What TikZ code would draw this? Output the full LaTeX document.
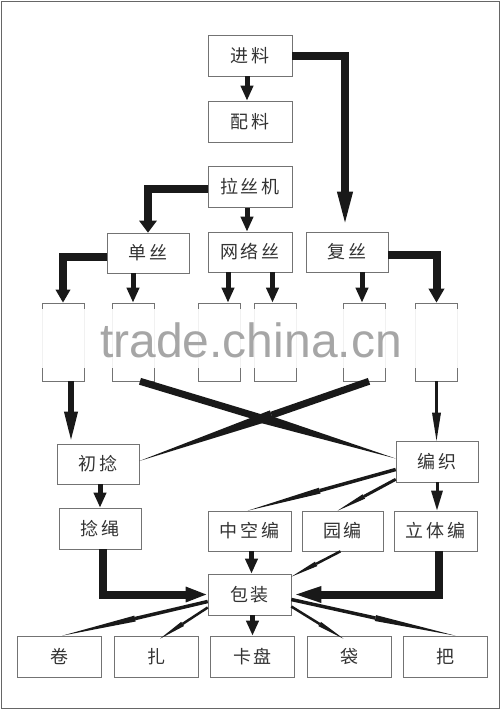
\documentclass[tikz,border=0pt]{standalone}
\usepackage{fontspec}
\newfontfamily\cjk[LetterSpace=15]{Noto Sans CJK SC}
\newfontfamily\wmfont{Liberation Sans}
\usetikzlibrary{arrows.meta,calc}

\tikzset{
  box/.style={draw=black!55, line width=0.6pt, minimum width=84pt, minimum height=41pt,
    inner sep=0pt, text=black!80, font=\cjk\fontsize{18}{18}\selectfont},
  blank/.style={draw=black!55, line width=0.6pt, minimum width=42pt, minimum height=78pt, inner sep=0pt},
  fat/.style={draw=black!90, line width=5pt, -{Triangle[length=15pt,width=12pt]}},
  elbow/.style 2 args={draw=black!90, line width=8pt, -{Triangle[length=#1,width=#2]}}
}
% tapered connector: from, to, shaft width, head length, head half width
\newcommand{\spike}[5]{%
  \path #1 coordinate (sp-a) #2 coordinate (sp-b);
  \coordinate (sp-c) at ($(sp-b)!#4!(sp-a)$);
  \draw[black!90, line width=#3] (sp-a) -- (sp-c);
  \fill[black!90] ($(sp-c)!#5!90:(sp-b)$) -- (sp-b) -- ($(sp-c)!#5!-90:(sp-b)$) -- cycle;
}

\begin{document}
\begin{tikzpicture}[x=1pt, y=-1pt]
\useasboundingbox (0,0) rectangle (500,710);
\draw[black!60, line width=1pt] (1,1) rectangle (499,708);

% top part
\node[box] (jinliao)  at (250,55.5)  {进料};
\node[box] (peiliao)  at (250,121.5) {配料};
\node[box] (lasiji)   at (250,187)   {拉丝机};
\node[box, minimum width=82pt, minimum height=40pt] (dansi)     at (148,253) {单丝};
\node[box, minimum height=40pt] (wangluosi) at (250,252) {网络丝};
\node[box, minimum width=82pt, minimum height=40pt] (fusi)      at (347,252) {复丝};

% blank middle row
\node[blank] (m1) at (63,342) {};
\node[blank] (m2) at (133,342) {};
\node[blank] (m3) at (219,342) {};
\node[blank] (m4) at (275.5,342) {};
\node[blank] (m5) at (364,342) {};
\node[blank] (m6) at (436.5,342) {};

% watermark
\fill[white, opacity=0.9] (30,309) rectangle (470,368);
\node[anchor=base, text=black!35, inner sep=0pt, font=\wmfont\fontsize{48}{48}\selectfont]
  (wm) at (251,357) {trade.china.cn};

% lower part
\node[box, minimum width=82pt, minimum height=40pt] (chunian)    at (98,464)    {初捻};
\node[box, minimum width=82pt] (bianzhi)    at (437,461.5) {编织};
\node[box, minimum width=82pt] (niansheng)  at (100,528.5) {捻绳};
\node[box, minimum width=83pt, minimum height=40pt] (zhongkong)  at (249.5,531) {中空编};
\node[box, minimum width=81pt, minimum height=40pt] (yuanbian)   at (342.5,531) {园编};
\node[box, minimum width=83pt, minimum height=40pt] (liti)       at (435.5,531) {立体编};
\node[box, minimum width=83pt] (baozhuang)  at (249.5,594.5) {包装};

% bottom row
\node[box] (juan)  at (59,656.5)    {卷};
\node[box] (zha)   at (156,656.5)   {扎};
\node[box] (kapan) at (252.5,656.5) {卡盘};
\node[box] (dai)   at (349.5,656.5) {袋};
\node[box] (ba)    at (445.5,656.5) {把};

% arrows, top
\draw[fat] ([xshift=-3]jinliao.south) -- ([xshift=-3]peiliao.north);
\draw[elbow={40pt}{13pt}] (jinliao.east) -| ([xshift=-2]fusi.north);
\draw[elbow={12pt}{17pt}] ([yshift=-2]lasiji.west) -| (dansi.north);
\draw[fat] ([xshift=-3]lasiji.south) -- ([xshift=-3]wangluosi.north);
\draw[elbow={13pt}{14pt}] ([yshift=-4]dansi.west) -| (m1.north);
\draw[fat] (dansi.south -| m2) -- (m2.north);
\draw[fat] ([xshift=9]wangluosi.south -| m3) -- ([xshift=9]m3.north);
\draw[fat] ([xshift=-3]wangluosi.south -| m4) -- ([xshift=-3]m4.north);
\draw[fat] ([xshift=-2]fusi.south -| m5) -- ([xshift=-2]m5.north);
\draw[elbow={14pt}{15pt}] ([yshift=-3]fusi.east) -| (m6.north);

% crossing
\draw[fat, line width=6pt, -{Triangle[length=32pt,width=12pt]}]
  ([xshift=8]m1.south) -- ([xshift=8]m1.south |- chunian.north);
\spike{(m6.south)}{(m6.south |- bianzhi.north)}{3.5pt}{28pt}{4.5pt}
\spike{([xshift=7]m2.south)}{([yshift=3]bianzhi.west)}{7pt}{140pt}{5pt}
\spike{([xshift=5]m5.south)}{([yshift=3]chunian.east)}{7pt}{140pt}{5pt}

% weaving
\spike{([yshift=-8]bianzhi.west)}{([xshift=-2]zhongkong.north)}{3.5pt}{75pt}{3pt}
\spike{([yshift=3]bianzhi.south west)}{([xshift=-5]yuanbian.north)}{3pt}{30pt}{2.5pt}
\draw[fat, line width=3pt, -{Triangle[length=20pt,width=11pt]}]
  (bianzhi.south) -- (bianzhi.south |- liti.north);
\draw[fat] (chunian.south -| niansheng) -- (niansheng.north);

% to packing
\draw[elbow={22pt}{14pt}] ([xshift=3]niansheng.south) |- (baozhuang.west);
\draw[elbow={30pt}{14pt}] ([xshift=3]liti.south) |- (baozhuang.east);
\draw[fat] ([xshift=2]zhongkong.south) -- ([xshift=2]baozhuang.north);
\spike{([xshift=-2]yuanbian.south)}{([yshift=-3]baozhuang.north east)}{2.5pt}{28pt}{2.5pt}

% packing forms
\draw[fat] (baozhuang.south -| kapan) -- (kapan.north);
\spike{([yshift=-7]baozhuang.west)}{([xshift=3]juan.north)}{3.5pt}{75pt}{3pt}
\spike{([yshift=-13]baozhuang.west)}{([xshift=4,yshift=-3]zha.north)}{2.5pt}{27pt}{2.5pt}
\spike{([yshift=-12]baozhuang.east)}{([xshift=-6,yshift=-3]dai.north)}{2.5pt}{28pt}{2.5pt}
\spike{([yshift=-5]baozhuang.east)}{([xshift=10]ba.north)}{3.5pt}{82pt}{3pt}
\end{tikzpicture}
\end{document}
